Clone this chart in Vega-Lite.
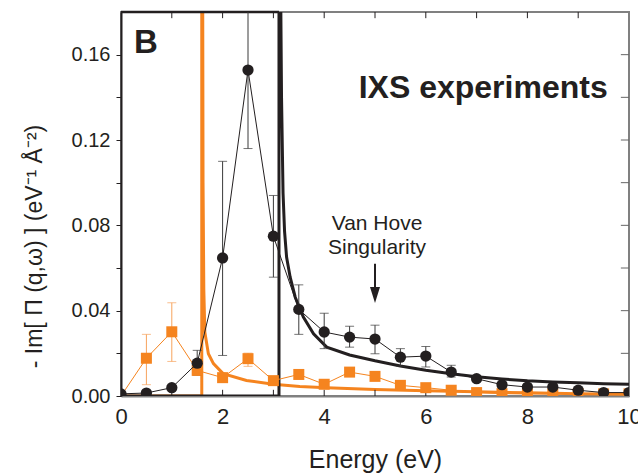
{
  "$schema": "https://vega.github.io/schema/vega-lite/v6.json",
  "width": 508,
  "height": 384,
  "autosize": "none",
  "padding": {"left": 121, "top": 12, "right": 9, "bottom": 77},
  "background": "white",
  "config": {
    "view": {"stroke": "#808080", "strokeWidth": 2},
    "font": "Liberation Sans",
    "axis": {"grid": false, "labelFlush": false, "labelFont": "Liberation Sans", "titleFont": "Liberation Sans", "labelColor": "#231f20", "titleColor": "#231f20", "titleFontWeight": "normal"}
  },
  "datasets": {
    "blackData": [
      {"e": 0.0, "v": 0.001, "lo": 0.0005, "hi": 0.0015},
      {"e": 0.5, "v": 0.0014, "lo": 0.0008, "hi": 0.002},
      {"e": 1.0, "v": 0.0039, "lo": 0.003, "hi": 0.0048},
      {"e": 1.5, "v": 0.0154, "lo": 0.0097, "hi": 0.0214},
      {"e": 2.0, "v": 0.0647, "lo": 0.019, "hi": 0.110},
      {"e": 2.5, "v": 0.1528, "lo": 0.116, "hi": 0.22},
      {"e": 3.0, "v": 0.0749, "lo": 0.0557, "hi": 0.094},
      {"e": 3.5, "v": 0.0406, "lo": 0.0289, "hi": 0.0521},
      {"e": 4.0, "v": 0.030, "lo": 0.0222, "hi": 0.0388},
      {"e": 4.5, "v": 0.0276, "lo": 0.0229, "hi": 0.0327},
      {"e": 5.0, "v": 0.0267, "lo": 0.0198, "hi": 0.0332},
      {"e": 5.5, "v": 0.0182, "lo": 0.014, "hi": 0.0222},
      {"e": 6.0, "v": 0.0187, "lo": 0.0136, "hi": 0.0232},
      {"e": 6.5, "v": 0.0112, "lo": 0.0089, "hi": 0.0144},
      {"e": 7.0, "v": 0.0081, "lo": 0.007, "hi": 0.0092},
      {"e": 7.5, "v": 0.0053, "lo": 0.0043, "hi": 0.0063},
      {"e": 8.0, "v": 0.0042, "lo": 0.0032, "hi": 0.0052},
      {"e": 8.5, "v": 0.0042, "lo": 0.0032, "hi": 0.0052},
      {"e": 9.0, "v": 0.0027, "lo": 0.0017, "hi": 0.0037},
      {"e": 9.5, "v": 0.0016, "lo": 0.0006, "hi": 0.0026},
      {"e": 10.0, "v": 0.0016, "lo": 0.0006, "hi": 0.0026}
    ],
    "orangeData": [
      {"e": 0.0, "v": 0.0, "lo": 0.0, "hi": 0.0},
      {"e": 0.5, "v": 0.0177, "lo": 0.0053, "hi": 0.0289},
      {"e": 1.0, "v": 0.0301, "lo": 0.0162, "hi": 0.0437},
      {"e": 1.5, "v": 0.012, "lo": 0.011, "hi": 0.013},
      {"e": 2.0, "v": 0.0086, "lo": 0.0078, "hi": 0.0094},
      {"e": 2.5, "v": 0.0175, "lo": 0.0139, "hi": 0.0201},
      {"e": 3.0, "v": 0.0072, "lo": 0.0065, "hi": 0.0079},
      {"e": 3.5, "v": 0.0101, "lo": 0.0094, "hi": 0.0108},
      {"e": 4.0, "v": 0.0055, "lo": 0.0048, "hi": 0.0062},
      {"e": 4.5, "v": 0.0112, "lo": 0.0105, "hi": 0.0119},
      {"e": 5.0, "v": 0.0092, "lo": 0.0085, "hi": 0.0099},
      {"e": 5.5, "v": 0.005, "lo": 0.0043, "hi": 0.0057},
      {"e": 6.0, "v": 0.0039, "lo": 0.0032, "hi": 0.0046},
      {"e": 6.5, "v": 0.0027, "lo": 0.002, "hi": 0.0034},
      {"e": 7.0, "v": 0.0016, "lo": 0.001, "hi": 0.0022},
      {"e": 7.5, "v": 0.0011, "lo": 0.0005, "hi": 0.0017},
      {"e": 8.0, "v": 0.001, "lo": 0.0005, "hi": 0.0015},
      {"e": 8.5, "v": 0.001, "lo": 0.0005, "hi": 0.0015},
      {"e": 9.0, "v": 0.001, "lo": 0.0005, "hi": 0.0015},
      {"e": 9.5, "v": 0.001, "lo": 0.0005, "hi": 0.0015},
      {"e": 10.0, "v": 0.001, "lo": 0.0005, "hi": 0.0015}
    ],
    "blackTheory": [
      {"i": 0, "e": 0.0, "v": 0.0},
      {"i": 1, "e": 3.11, "v": 0.0},
      {"i": 2, "e": 3.11, "v": 0.3},
      {"i": 3, "e": 3.125, "v": 0.3},
      {"i": 4, "e": 3.14, "v": 0.2},
      {"i": 5, "e": 3.16, "v": 0.14},
      {"i": 6, "e": 3.19, "v": 0.095},
      {"i": 7, "e": 3.22, "v": 0.077},
      {"i": 8, "e": 3.26, "v": 0.065},
      {"i": 9, "e": 3.33, "v": 0.0557},
      {"i": 10, "e": 3.43, "v": 0.0463},
      {"i": 11, "e": 3.59, "v": 0.037},
      {"i": 12, "e": 3.79, "v": 0.0292},
      {"i": 13, "e": 4.05, "v": 0.0229},
      {"i": 14, "e": 4.5, "v": 0.0192},
      {"i": 15, "e": 5.0, "v": 0.0165},
      {"i": 16, "e": 5.5, "v": 0.0141},
      {"i": 17, "e": 6.0, "v": 0.0121},
      {"i": 18, "e": 6.5, "v": 0.0104},
      {"i": 19, "e": 7.0, "v": 0.009},
      {"i": 20, "e": 7.5, "v": 0.008},
      {"i": 21, "e": 8.0, "v": 0.0071},
      {"i": 22, "e": 8.5, "v": 0.0066},
      {"i": 23, "e": 9.0, "v": 0.0062},
      {"i": 24, "e": 9.5, "v": 0.0058},
      {"i": 25, "e": 10.0, "v": 0.0055}
    ],
    "orangeTheory": [
      {"i": 0, "e": 0.0, "v": 0.0},
      {"i": 1, "e": 1.59, "v": 0.0},
      {"i": 2, "e": 1.59, "v": 0.3},
      {"i": 3, "e": 1.6, "v": 0.3},
      {"i": 4, "e": 1.615, "v": 0.1},
      {"i": 5, "e": 1.63, "v": 0.05},
      {"i": 6, "e": 1.65, "v": 0.03},
      {"i": 7, "e": 1.72, "v": 0.0198},
      {"i": 8, "e": 1.82, "v": 0.0152},
      {"i": 9, "e": 2.01, "v": 0.0105},
      {"i": 10, "e": 2.47, "v": 0.0073},
      {"i": 11, "e": 3.0, "v": 0.0055},
      {"i": 12, "e": 3.52, "v": 0.0045},
      {"i": 13, "e": 4.05, "v": 0.0039},
      {"i": 14, "e": 5.0, "v": 0.0031},
      {"i": 15, "e": 6.0, "v": 0.0025},
      {"i": 16, "e": 7.0, "v": 0.002},
      {"i": 17, "e": 8.0, "v": 0.0015},
      {"i": 18, "e": 9.0, "v": 0.0011},
      {"i": 19, "e": 10.0, "v": 0.0008}
    ],
    "energyTicks": [
      {"e": 1}, {"e": 2}, {"e": 3}, {"e": 4}, {"e": 5}, {"e": 6}, {"e": 7}, {"e": 8}, {"e": 9}
    ],
    "intensityTicks": [
      {"v": 0.02}, {"v": 0.04}, {"v": 0.06}, {"v": 0.08}, {"v": 0.10}, {"v": 0.12}, {"v": 0.14}, {"v": 0.16}
    ]
  },
  "layer": [
    {
      "data": {"name": "orangeTheory"},
      "mark": {"type": "line", "color": "#f5841f", "strokeWidth": 3, "clip": true},
      "encoding": {
        "x": {"field": "e", "type": "quantitative", "scale": {"domain": [0, 10], "nice": false},
              "axis": {"orient": "bottom", "values": [0, 2, 4, 6, 8, 10],
                       "labelFontSize": 22, "labelPadding": 10, "ticks": false, "tickSize": 0,
                       "domainColor": "#808080", "domainWidth": 2,
                       "title": "Energy (eV)", "titleFontSize": 25, "titleX": 254, "titleY": 71, "titleBaseline": "alphabetic", "titleAlign": "center"}},
        "y": {"field": "v", "type": "quantitative", "scale": {"domain": [0, 0.18], "nice": false},
              "title": "- Im[ Π (q,ω) ] (eV⁻¹ Å⁻²)",
              "axis": {"orient": "left", "values": [0, 0.02, 0.04, 0.06, 0.08, 0.1, 0.12, 0.14, 0.16],
                       "labelExpr": "abs(datum.value * 25 - round(datum.value * 25)) < 0.001 ? format(datum.value, '.2f') : ''",
                       "labelFontSize": 20, "labelPadding": 6, "tickSize": 5, "tickColor": "#231f20",
                       "domainColor": "#231f20", "domainWidth": 2,
                       "titleFontSize": 23, "titleAngle": -90,
                       "titleX": -87, "titleY": 234, "titleAlign": "center", "titleBaseline": "middle"}},
        "order": {"field": "i"}
      }
    },
    {
      "data": {"name": "blackTheory"},
      "mark": {"type": "line", "color": "#231f20", "strokeWidth": 3, "clip": true},
      "encoding": {
        "x": {"field": "e", "type": "quantitative", "scale": {"domain": [0, 10], "nice": false}, "title": "Energy (eV)"},
        "y": {"field": "v", "type": "quantitative", "scale": {"domain": [0, 0.18], "nice": false}, "title": "- Im[ Π (q,ω) ] (eV⁻¹ Å⁻²)"},
        "order": {"field": "i"}
      }
    },
    {
      "data": {"values": [{"from": 0, "to": 3.11, "top": 0.18}]},
      "mark": {"type": "rule", "color": "#231f20", "strokeWidth": 2.5},
      "encoding": {
        "x": {"field": "from", "type": "quantitative", "scale": {"domain": [0, 10], "nice": false}, "title": "Energy (eV)"},
        "x2": {"field": "to"},
        "y": {"field": "top", "type": "quantitative", "scale": {"domain": [0, 0.18], "nice": false}, "title": "- Im[ Π (q,ω) ] (eV⁻¹ Å⁻²)"}
      }
    },
    {
      "data": {"name": "energyTicks"},
      "mark": {"type": "rule", "color": "#231f20", "strokeWidth": 1},
      "encoding": {
        "x": {"field": "e", "type": "quantitative", "scale": {"domain": [0, 10], "nice": false}, "title": "Energy (eV)"},
        "y": {"datum": 0, "type": "quantitative", "scale": {"domain": [0, 0.18], "nice": false}, "title": "- Im[ Π (q,ω) ] (eV⁻¹ Å⁻²)"},
        "y2": {"datum": 0.0029}
      }
    },
    {
      "data": {"name": "energyTicks"},
      "mark": {"type": "rule", "color": "#231f20", "strokeWidth": 1},
      "encoding": {
        "x": {"field": "e", "type": "quantitative", "scale": {"domain": [0, 10], "nice": false}, "title": "Energy (eV)"},
        "y": {"datum": 0.18, "type": "quantitative", "scale": {"domain": [0, 0.18], "nice": false}, "title": "- Im[ Π (q,ω) ] (eV⁻¹ Å⁻²)"},
        "y2": {"datum": 0.1771}
      }
    },
    {
      "data": {"name": "intensityTicks"},
      "mark": {"type": "rule", "color": "#666666", "strokeWidth": 1},
      "encoding": {
        "x": {"datum": 10, "type": "quantitative", "scale": {"domain": [0, 10], "nice": false}, "title": "Energy (eV)"},
        "x2": {"datum": 9.84},
        "y": {"field": "v", "type": "quantitative", "scale": {"domain": [0, 0.18], "nice": false}, "title": "- Im[ Π (q,ω) ] (eV⁻¹ Å⁻²)"}
      }
    },
    {
      "data": {"name": "orangeData"},
      "transform": [{"filter": "datum.e > 0"}],
      "mark": {"type": "errorbar", "ticks": true, "size": 9, "thickness": 1, "color": "#f7a35c", "clip": true},
      "encoding": {
        "x": {"field": "e", "type": "quantitative", "scale": {"domain": [0, 10], "nice": false}, "title": "Energy (eV)"},
        "y": {"field": "lo", "type": "quantitative", "scale": {"domain": [0, 0.18], "nice": false}, "title": "- Im[ Π (q,ω) ] (eV⁻¹ Å⁻²)"},
        "y2": {"field": "hi"}
      }
    },
    {
      "data": {"name": "blackData"},
      "mark": {"type": "errorbar", "ticks": true, "size": 9, "thickness": 1, "color": "#3a3a3a", "clip": true},
      "encoding": {
        "x": {"field": "e", "type": "quantitative", "scale": {"domain": [0, 10], "nice": false}, "title": "Energy (eV)"},
        "y": {"field": "lo", "type": "quantitative", "scale": {"domain": [0, 0.18], "nice": false}, "title": "- Im[ Π (q,ω) ] (eV⁻¹ Å⁻²)"},
        "y2": {"field": "hi"}
      }
    },
    {
      "data": {"name": "orangeData"},
      "mark": {"type": "line", "color": "#f5841f", "strokeWidth": 1, "clip": true},
      "encoding": {
        "x": {"field": "e", "type": "quantitative", "scale": {"domain": [0, 10], "nice": false}, "title": "Energy (eV)"},
        "y": {"field": "v", "type": "quantitative", "scale": {"domain": [0, 0.18], "nice": false}, "title": "- Im[ Π (q,ω) ] (eV⁻¹ Å⁻²)"}
      }
    },
    {
      "data": {"name": "orangeData"},
      "transform": [{"filter": "datum.e > 0"}],
      "mark": {"type": "point", "shape": "square", "filled": true, "opacity": 1, "size": 121, "color": "#f5841f", "clip": true},
      "encoding": {
        "x": {"field": "e", "type": "quantitative", "scale": {"domain": [0, 10], "nice": false}, "title": "Energy (eV)"},
        "y": {"field": "v", "type": "quantitative", "scale": {"domain": [0, 0.18], "nice": false}, "title": "- Im[ Π (q,ω) ] (eV⁻¹ Å⁻²)"}
      }
    },
    {
      "data": {"name": "blackData"},
      "mark": {"type": "line", "color": "#231f20", "strokeWidth": 1, "clip": true},
      "encoding": {
        "x": {"field": "e", "type": "quantitative", "scale": {"domain": [0, 10], "nice": false}, "title": "Energy (eV)"},
        "y": {"field": "v", "type": "quantitative", "scale": {"domain": [0, 0.18], "nice": false}, "title": "- Im[ Π (q,ω) ] (eV⁻¹ Å⁻²)"}
      }
    },
    {
      "data": {"name": "blackData"},
      "mark": {"type": "point", "shape": "circle", "filled": true, "opacity": 1, "size": 127, "color": "#231f20", "clip": true},
      "encoding": {
        "x": {"field": "e", "type": "quantitative", "scale": {"domain": [0, 10], "nice": false}, "title": "Energy (eV)"},
        "y": {"field": "v", "type": "quantitative", "scale": {"domain": [0, 0.18], "nice": false}, "title": "- Im[ Π (q,ω) ] (eV⁻¹ Å⁻²)"}
      }
    },
    {
      "data": {"values": [{"e": 5.0, "top": 0.062, "bottom": 0.049}]},
      "mark": {"type": "rule", "color": "#231f20", "strokeWidth": 2},
      "encoding": {
        "x": {"field": "e", "type": "quantitative", "scale": {"domain": [0, 10], "nice": false}, "title": "Energy (eV)"},
        "y": {"field": "top", "type": "quantitative", "scale": {"domain": [0, 0.18], "nice": false}, "title": "- Im[ Π (q,ω) ] (eV⁻¹ Å⁻²)"},
        "y2": {"field": "bottom"}
      }
    },
    {
      "data": {"values": [{"e": 5.0, "head": 0.0473}]},
      "mark": {"type": "point", "shape": "M-0.625,-1L0.625,-1L0,1Z", "filled": true, "opacity": 1, "size": 256, "color": "#231f20", "strokeWidth": 0},
      "encoding": {
        "x": {"field": "e", "type": "quantitative", "scale": {"domain": [0, 10], "nice": false}, "title": "Energy (eV)"},
        "y": {"field": "head", "type": "quantitative", "scale": {"domain": [0, 0.18], "nice": false}, "title": "- Im[ Π (q,ω) ] (eV⁻¹ Å⁻²)"}
      }
    },
    {
      "data": {"values": [
        {"label": "B", "e": 0.49, "v": 0.1608, "kind": "panel"},
        {"label": "IXS experiments", "e": 7.13, "v": 0.1399, "kind": "heading"}
      ]},
      "mark": {"type": "text", "fontWeight": "bold", "color": "#231f20", "align": "center", "baseline": "alphabetic"},
      "encoding": {
        "x": {"field": "e", "type": "quantitative", "scale": {"domain": [0, 10], "nice": false}, "title": "Energy (eV)"},
        "y": {"field": "v", "type": "quantitative", "scale": {"domain": [0, 0.18], "nice": false}, "title": "- Im[ Π (q,ω) ] (eV⁻¹ Å⁻²)"},
        "text": {"field": "label"},
        "size": {"field": "kind", "type": "nominal", "scale": {"domain": ["panel", "heading"], "range": [33, 32]}, "legend": null}
      }
    },
    {
      "data": {"values": [
        {"label": "Van Hove", "e": 5.04, "v": 0.0779},
        {"label": "Singularity", "e": 5.04, "v": 0.0666}
      ]},
      "mark": {"type": "text", "fontSize": 21, "color": "#231f20", "align": "center", "baseline": "alphabetic"},
      "encoding": {
        "x": {"field": "e", "type": "quantitative", "scale": {"domain": [0, 10], "nice": false}, "title": "Energy (eV)"},
        "y": {"field": "v", "type": "quantitative", "scale": {"domain": [0, 0.18], "nice": false}, "title": "- Im[ Π (q,ω) ] (eV⁻¹ Å⁻²)"},
        "text": {"field": "label"}
      }
    }
  ]
}
